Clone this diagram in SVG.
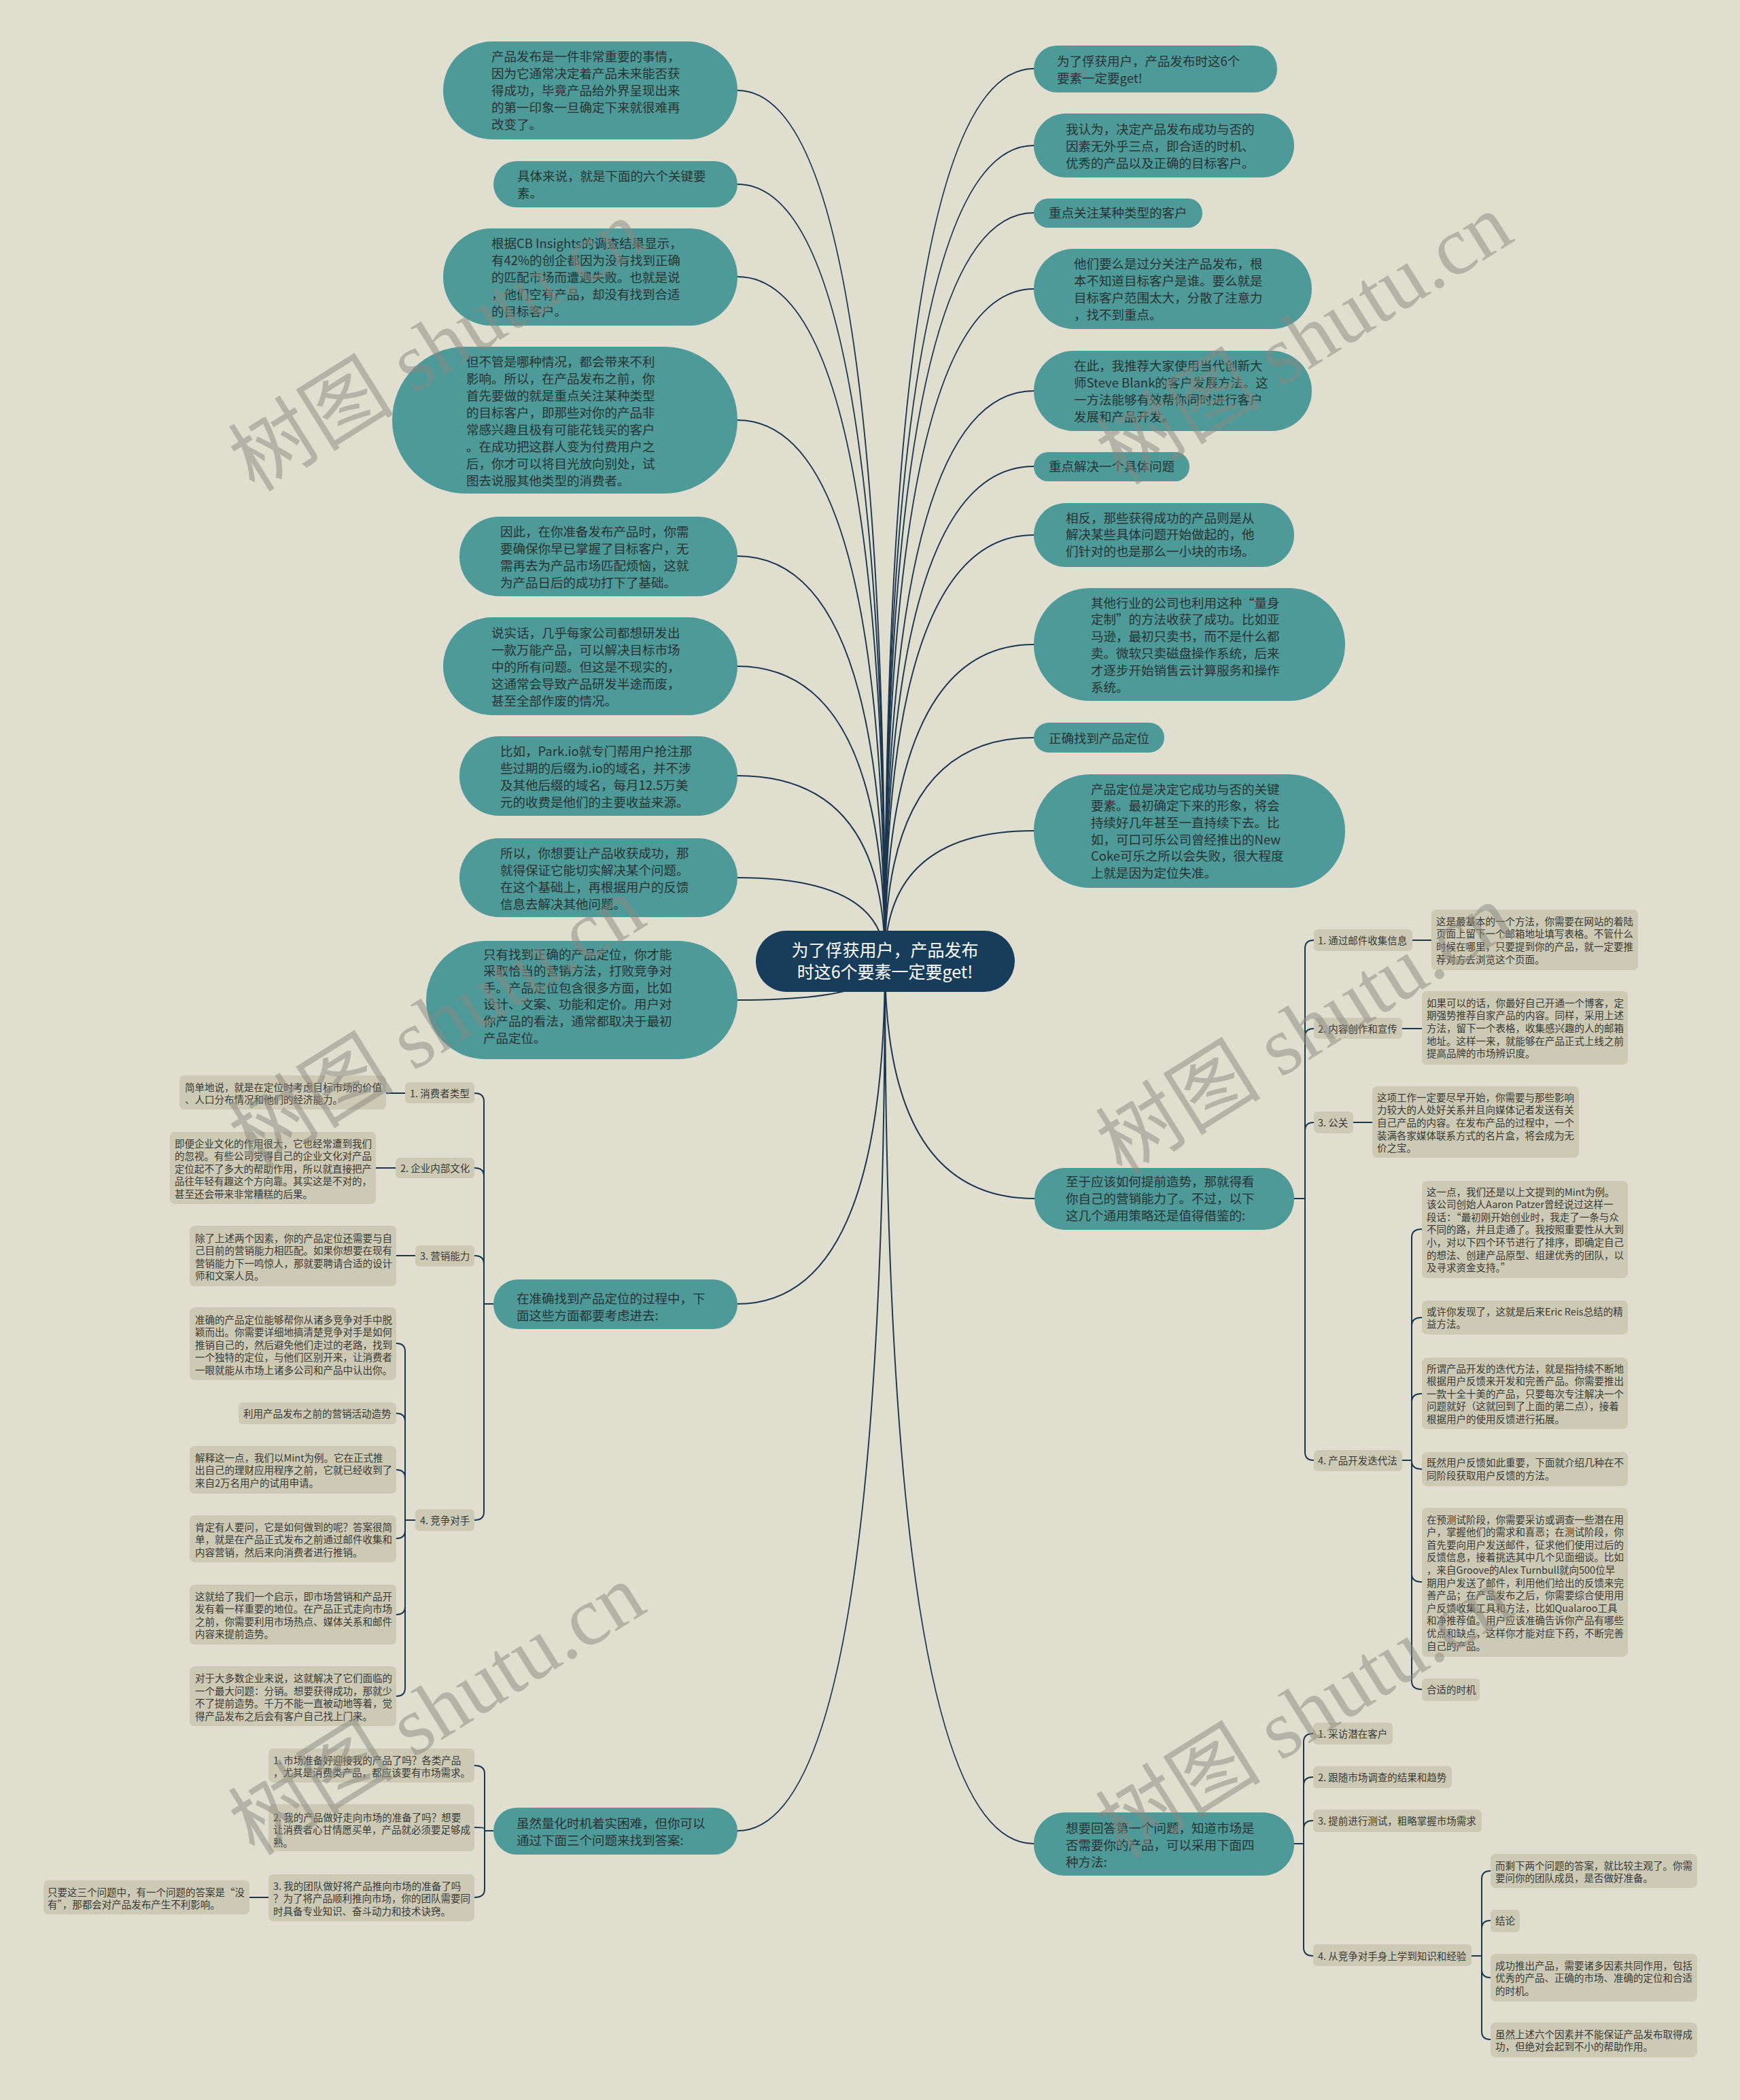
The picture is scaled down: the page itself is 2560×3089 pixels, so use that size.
<svg xmlns="http://www.w3.org/2000/svg" width="2560" height="3089" viewBox="0 0 2560 3089">
<style>
.tn{fill:#4d9a99}
.tt{font-family:"Noto Sans CJK SC","Noto Sans",sans-serif;font-size:18.5px;fill:#283333}
.sn{fill:#ccc9b4}
.st{font-family:"Noto Sans CJK SC","Noto Sans",sans-serif;font-size:14.5px;fill:#3a3a35}
.rt{font-family:"Noto Sans CJK SC","Noto Sans",sans-serif;font-size:25px;fill:#ffffff}
.c{fill:none;stroke:#1d3650;stroke-width:2}
.wm{font-family:"Liberation Serif","Noto Sans CJK SC",serif;font-size:122px;fill:#8a8a80;opacity:.5}
</style>
<rect x="0" y="0" width="2560" height="3089" fill="#dfdecf"/>
<g id="connectors">
<path class="c" d="M1302 1414 Q1302 133 1085 133"/>
<path class="c" d="M1302 1414 Q1302 271 1085 271"/>
<path class="c" d="M1302 1414 Q1302 407 1085 407"/>
<path class="c" d="M1302 1414 Q1302 618 1085 618"/>
<path class="c" d="M1302 1414 Q1302 818 1085 818"/>
<path class="c" d="M1302 1414 Q1302 980 1085 980"/>
<path class="c" d="M1302 1414 Q1302 1141 1085 1141"/>
<path class="c" d="M1302 1414 Q1302 1291 1085 1291"/>
<path class="c" d="M1302 1414 Q1302 1471 1085 1471"/>
<path class="c" d="M1302 1414 Q1302 1918 1085 1918"/>
<path class="c" d="M1302 1414 Q1302 2693 1085 2693"/>
<path class="c" d="M1302 1414 Q1302 101 1521 101"/>
<path class="c" d="M1302 1414 Q1302 214 1521 214"/>
<path class="c" d="M1302 1414 Q1302 313 1521 313"/>
<path class="c" d="M1302 1414 Q1302 425 1521 425"/>
<path class="c" d="M1302 1414 Q1302 575 1521 575"/>
<path class="c" d="M1302 1414 Q1302 686 1521 686"/>
<path class="c" d="M1302 1414 Q1302 787 1521 787"/>
<path class="c" d="M1302 1414 Q1302 948 1521 948"/>
<path class="c" d="M1302 1414 Q1302 1085 1521 1085"/>
<path class="c" d="M1302 1414 Q1302 1222 1521 1222"/>
<path class="c" d="M1302 1414 Q1302 1763 1522 1763"/>
<path class="c" d="M1302 1414 Q1302 2712 1521 2712"/>
<path class="c" d="M1904 1763 H1920 V1395 Q1920 1383 1933 1383"/>
<path class="c" d="M1904 1763 H1920 V1525 Q1920 1513 1933 1513"/>
<path class="c" d="M1904 1763 H1920 V1663 Q1920 1651 1933 1651"/>
<path class="c" d="M1904 1763 H1920 V2136 Q1920 2148 1933 2148"/>
<path class="c" d="M2078 1383 H2106"/>
<path class="c" d="M2063 1513 H2092"/>
<path class="c" d="M1991 1651 H2019"/>
<path class="c" d="M2063 2148 H2077 V1820 Q2077 1808 2092 1808"/>
<path class="c" d="M2063 2148 H2077 V1950 Q2077 1938 2092 1938"/>
<path class="c" d="M2063 2148 H2077 V2062 Q2077 2050 2092 2050"/>
<path class="c" d="M2063 2148 H2077 V2149 Q2077 2161 2092 2161"/>
<path class="c" d="M2063 2148 H2077 V2315 Q2077 2327 2092 2327"/>
<path class="c" d="M2063 2148 H2077 V2473 Q2077 2485 2092 2485"/>
<path class="c" d="M1904 2712 H1918 V2562 Q1918 2550 1932 2550"/>
<path class="c" d="M1904 2712 H1918 V2626 Q1918 2614 1932 2614"/>
<path class="c" d="M1904 2712 H1918 V2690 Q1918 2678 1932 2678"/>
<path class="c" d="M1904 2712 H1918 V2865 Q1918 2877 1932 2877"/>
<path class="c" d="M2165 2877 H2180 V2764 Q2180 2752 2193 2752"/>
<path class="c" d="M2165 2877 H2180 V2837 Q2180 2825 2193 2825"/>
<path class="c" d="M2165 2877 H2180 V2897 Q2180 2909 2193 2909"/>
<path class="c" d="M2165 2877 H2180 V2988 Q2180 3000 2193 3000"/>
<path class="c" d="M726 1918 H712 V1620 Q712 1608 698 1608"/>
<path class="c" d="M726 1918 H712 V1730 Q712 1718 698 1718"/>
<path class="c" d="M726 1918 H712 V1859 Q712 1847 698 1847"/>
<path class="c" d="M726 1918 H712 V2224 Q712 2236 698 2236"/>
<path class="c" d="M596 1608 H568"/>
<path class="c" d="M582 1718 H553"/>
<path class="c" d="M611 1847 H583"/>
<path class="c" d="M611 2236 H596 V1988 Q596 1976 583 1976"/>
<path class="c" d="M611 2236 H596 V2091 Q596 2079 583 2079"/>
<path class="c" d="M611 2236 H596 V2174 Q596 2162 583 2162"/>
<path class="c" d="M611 2236 H596 V2251 Q596 2263 583 2263"/>
<path class="c" d="M611 2236 H596 V2363 Q596 2375 583 2375"/>
<path class="c" d="M611 2236 H596 V2483 Q596 2495 583 2495"/>
<path class="c" d="M726 2693 H713 V2609 Q713 2597 698 2597"/>
<path class="c" d="M726 2693 H713 V2690 Q713 2688 698 2688"/>
<path class="c" d="M726 2693 H713 V2779 Q713 2791 698 2791"/>
<path class="c" d="M395 2791 H367"/>
</g>
<g id="root"><rect x="1112" y="1369" width="381" height="90" rx="45" fill="#173d5b"/><text class="rt" text-anchor="middle"><tspan x="1302" y="1407">为了俘获用户，产品发布</tspan><tspan x="1302" y="1439">时这6个要素一定要get!</tspan></text></g>
<g id="n1"><rect class="tn" x="652" y="61" width="433" height="144" rx="72"/><text class="tt"><tspan x="723" y="90">产品发布是一件非常重要的事情，</tspan><tspan x="723" y="115">因为它通常决定着产品未来能否获</tspan><tspan x="723" y="140">得成功，毕竟产品给外界呈现出来</tspan><tspan x="723" y="165">的第一印象一旦确定下来就很难再</tspan><tspan x="723" y="190">改变了。</tspan></text></g>
<g id="n2"><rect class="tn" x="726" y="237" width="359" height="68" rx="34"/><text class="tt"><tspan x="761" y="265.5">具体来说，就是下面的六个关键要</tspan><tspan x="761" y="290.5">素。</tspan></text></g>
<g id="n3"><rect class="tn" x="652" y="336" width="433" height="143" rx="71"/><text class="tt"><tspan x="723" y="364.5">根据CB Insights的调查结果显示，</tspan><tspan x="723" y="389.5">有42%的创企都因为没有找到正确</tspan><tspan x="723" y="414.5">的匹配市场而遭遇失败。也就是说</tspan><tspan x="723" y="439.5">，他们空有产品，却没有找到合适</tspan><tspan x="723" y="464.5">的目标客户。</tspan></text></g>
<g id="n4"><rect class="tn" x="577" y="510" width="508" height="216" rx="108"/><text class="tt"><tspan x="686" y="538.5">但不管是哪种情况，都会带来不利</tspan><tspan x="686" y="563.5">影响。所以，在产品发布之前，你</tspan><tspan x="686" y="588.5">首先要做的就是重点关注某种类型</tspan><tspan x="686" y="613.5">的目标客户，即那些对你的产品非</tspan><tspan x="686" y="638.5">常感兴趣且极有可能花钱买的客户</tspan><tspan x="686" y="663.5">。在成功把这群人变为付费用户之</tspan><tspan x="686" y="688.5">后，你才可以将目光放向别处，试</tspan><tspan x="686" y="713.5">图去说服其他类型的消费者。</tspan></text></g>
<g id="n5"><rect class="tn" x="676" y="760" width="409" height="117" rx="58"/><text class="tt"><tspan x="736" y="788.5">因此，在你准备发布产品时，你需</tspan><tspan x="736" y="813.5">要确保你早已掌握了目标客户，无</tspan><tspan x="736" y="838.5">需再去为产品市场匹配烦恼，这就</tspan><tspan x="736" y="863.5">为产品日后的成功打下了基础。</tspan></text></g>
<g id="n6"><rect class="tn" x="652" y="908" width="433" height="144" rx="72"/><text class="tt"><tspan x="723" y="937.5">说实话，几乎每家公司都想研发出</tspan><tspan x="723" y="962.5">一款万能产品，可以解决目标市场</tspan><tspan x="723" y="987.5">中的所有问题。但这是不现实的，</tspan><tspan x="723" y="1012.5">这通常会导致产品研发半途而废，</tspan><tspan x="723" y="1037.5">甚至全部作废的情况。</tspan></text></g>
<g id="n7"><rect class="tn" x="676" y="1083" width="409" height="117" rx="58"/><text class="tt"><tspan x="736" y="1111.5">比如，Park.io就专门帮用户抢注那</tspan><tspan x="736" y="1136.5">些过期的后缀为.io的域名，并不涉</tspan><tspan x="736" y="1161.5">及其他后缀的域名，每月12.5万美</tspan><tspan x="736" y="1186.5">元的收费是他们的主要收益来源。</tspan></text></g>
<g id="n8"><rect class="tn" x="676" y="1233" width="409" height="116" rx="58"/><text class="tt"><tspan x="736" y="1261.5">所以，你想要让产品收获成功，那</tspan><tspan x="736" y="1286.5">就得保证它能切实解决某个问题。</tspan><tspan x="736" y="1311.5">在这个基础上，再根据用户的反馈</tspan><tspan x="736" y="1336.5">信息去解决其他问题。</tspan></text></g>
<g id="n9"><rect class="tn" x="627" y="1384" width="458" height="174" rx="87"/><text class="tt"><tspan x="711" y="1410.5">只有找到正确的产品定位，你才能</tspan><tspan x="711" y="1435.1">采取恰当的营销方法，打败竞争对</tspan><tspan x="711" y="1459.7">手。产品定位包含很多方面，比如</tspan><tspan x="711" y="1484.3">设计、文案、功能和定价。用户对</tspan><tspan x="711" y="1508.9">你产品的看法，通常都取决于最初</tspan><tspan x="711" y="1533.5">产品定位。</tspan></text></g>
<g id="l10"><rect class="tn" x="726" y="1882" width="359" height="73" rx="36"/><text class="tt"><tspan x="760" y="1916.5">在准确找到产品定位的过程中，下</tspan><tspan x="760" y="1941.5">面这些方面都要考虑进去:</tspan></text></g>
<g id="l11"><rect class="tn" x="726" y="2659" width="359" height="69" rx="34"/><text class="tt"><tspan x="760" y="2688.5">虽然量化时机着实困难，但你可以</tspan><tspan x="760" y="2713.5">通过下面三个问题来找到答案:</tspan></text></g>
<g id="r1"><rect class="tn" x="1521" y="67" width="358" height="69" rx="34"/><text class="tt"><tspan x="1555" y="96.5">为了俘获用户，产品发布时这6个</tspan><tspan x="1555" y="121.5">要素一定要get!</tspan></text></g>
<g id="r2"><rect class="tn" x="1521" y="167" width="383" height="94" rx="47"/><text class="tt"><tspan x="1568" y="196.5">我认为，决定产品发布成功与否的</tspan><tspan x="1568" y="221.5">因素无外乎三点，即合适的时机、</tspan><tspan x="1568" y="246.5">优秀的产品以及正确的目标客户。</tspan></text></g>
<g id="r3"><rect class="tn" x="1521" y="292" width="248" height="43" rx="21"/><text class="tt"><tspan x="1543" y="319.5">重点关注某种类型的客户</tspan></text></g>
<g id="r4"><rect class="tn" x="1521" y="366" width="409" height="118" rx="59"/><text class="tt"><tspan x="1580" y="394.5">他们要么是过分关注产品发布，根</tspan><tspan x="1580" y="419.5">本不知道目标客户是谁。要么就是</tspan><tspan x="1580" y="444.5">目标客户范围太大，分散了注意力</tspan><tspan x="1580" y="469.5">，找不到重点。</tspan></text></g>
<g id="r5"><rect class="tn" x="1521" y="516" width="409" height="118" rx="59"/><text class="tt"><tspan x="1580" y="544.5">在此，我推荐大家使用当代创新大</tspan><tspan x="1580" y="569.5">师Steve Blank的客户发展方法。这</tspan><tspan x="1580" y="594.5">一方法能够有效帮你同时进行客户</tspan><tspan x="1580" y="619.5">发展和产品开发。</tspan></text></g>
<g id="r6"><rect class="tn" x="1521" y="665" width="229" height="43" rx="21"/><text class="tt"><tspan x="1543" y="692.5">重点解决一个具体问题</tspan></text></g>
<g id="r7"><rect class="tn" x="1521" y="740" width="383" height="94" rx="47"/><text class="tt"><tspan x="1568" y="768.5">相反，那些获得成功的产品则是从</tspan><tspan x="1568" y="793">解决某些具体问题开始做起的，他</tspan><tspan x="1568" y="817.5">们针对的也是那么一小块的市场。</tspan></text></g>
<g id="r8"><rect class="tn" x="1521" y="865" width="458" height="166" rx="83"/><text class="tt"><tspan x="1605" y="893.5">其他行业的公司也利用这种“量身</tspan><tspan x="1605" y="918.3">定制”的方法收获了成功。比如亚</tspan><tspan x="1605" y="943.1">马逊，最初只卖书，而不是什么都</tspan><tspan x="1605" y="967.9">卖。微软只卖磁盘操作系统，后来</tspan><tspan x="1605" y="992.7">才逐步开始销售云计算服务和操作</tspan><tspan x="1605" y="1017.5">系统。</tspan></text></g>
<g id="r9"><rect class="tn" x="1521" y="1063" width="192" height="44" rx="22"/><text class="tt"><tspan x="1543" y="1092.5">正确找到产品定位</tspan></text></g>
<g id="r10"><rect class="tn" x="1521" y="1139" width="458" height="167" rx="83"/><text class="tt"><tspan x="1605" y="1167.5">产品定位是决定它成功与否的关键</tspan><tspan x="1605" y="1192.2">要素。最初确定下来的形象，将会</tspan><tspan x="1605" y="1216.9">持续好几年甚至一直持续下去。比</tspan><tspan x="1605" y="1241.6">如，可口可乐公司曾经推出的New</tspan><tspan x="1605" y="1266.3">Coke可乐之所以会失败，很大程度</tspan><tspan x="1605" y="1291">上就是因为定位失准。</tspan></text></g>
<g id="r11"><rect class="tn" x="1522" y="1718" width="382" height="91" rx="45"/><text class="tt"><tspan x="1568" y="1744.5">至于应该如何提前造势，那就得看</tspan><tspan x="1568" y="1769.5">你自己的营销能力了。不过，以下</tspan><tspan x="1568" y="1794.5">这几个通用策略还是值得借鉴的:</tspan></text></g>
<g id="r12"><rect class="tn" x="1521" y="2666" width="383" height="93" rx="46"/><text class="tt"><tspan x="1568" y="2695.5">想要回答第一个问题，知道市场是</tspan><tspan x="1568" y="2720.5">否需要你的产品，可以采用下面四</tspan><tspan x="1568" y="2745.5">种方法:</tspan></text></g>
<g id="s1"><rect class="sn" x="1933" y="1367" width="145" height="32" rx="6"/><text class="st"><tspan x="1939" y="1388.5">1. 通过邮件收集信息</tspan></text></g>
<g id="s1c"><rect class="sn" x="2106" y="1338" width="304" height="89" rx="7"/><text class="st"><tspan x="2113" y="1360.5">这是最基本的一个方法，你需要在网站的着陆</tspan><tspan x="2113" y="1379.2">页面上留下一个邮箱地址填写表格。不管什么</tspan><tspan x="2113" y="1397.9">时候在哪里，只要提到你的产品，就一定要推</tspan><tspan x="2113" y="1416.6">荐对方去浏览这个页面。</tspan></text></g>
<g id="s2"><rect class="sn" x="1933" y="1497" width="130" height="31" rx="6"/><text class="st"><tspan x="1939" y="1518.5">2. 内容创作和宣传</tspan></text></g>
<g id="s2c"><rect class="sn" x="2092" y="1458" width="303" height="108" rx="7"/><text class="st"><tspan x="2099" y="1480.5">如果可以的话，你最好自己开通一个博客，定</tspan><tspan x="2099" y="1499.2">期强势推荐自家产品的内容。同样，采用上述</tspan><tspan x="2099" y="1517.9">方法，留下一个表格，收集感兴趣的人的邮箱</tspan><tspan x="2099" y="1536.6">地址。这样一来，就能够在产品正式上线之前</tspan><tspan x="2099" y="1555.3">提高品牌的市场辨识度。</tspan></text></g>
<g id="s3"><rect class="sn" x="1933" y="1635" width="58" height="32" rx="6"/><text class="st"><tspan x="1939" y="1656.5">3. 公关</tspan></text></g>
<g id="s3c"><rect class="sn" x="2019" y="1598" width="304" height="105" rx="7"/><text class="st"><tspan x="2026" y="1619.5">这项工作一定要尽早开始，你需要与那些影响</tspan><tspan x="2026" y="1638.2">力较大的人处好关系并且向媒体记者发送有关</tspan><tspan x="2026" y="1656.9">自己产品的内容。在发布产品的过程中，一个</tspan><tspan x="2026" y="1675.6">装满各家媒体联系方式的名片盒，将会成为无</tspan><tspan x="2026" y="1694.3">价之宝。</tspan></text></g>
<g id="s4"><rect class="sn" x="1933" y="2133" width="130" height="31" rx="6"/><text class="st"><tspan x="1939" y="2153.5">4. 产品开发迭代法</tspan></text></g>
<g id="s4a"><rect class="sn" x="2092" y="1737" width="303" height="143" rx="7"/><text class="st"><tspan x="2099" y="1758.5">这一点，我们还是以上文提到的Mint为例。</tspan><tspan x="2099" y="1777.1">该公司创始人Aaron Patzer曾经说过这样一</tspan><tspan x="2099" y="1795.7">段话：“最初刚开始创业时，我走了一条与众</tspan><tspan x="2099" y="1814.3">不同的路，并且走通了。我按照重要性从大到</tspan><tspan x="2099" y="1832.9">小，对以下四个环节进行了排序，即确定自己</tspan><tspan x="2099" y="1851.5">的想法、创建产品原型、组建优秀的团队，以</tspan><tspan x="2099" y="1870.1">及寻求资金支持。”</tspan></text></g>
<g id="s4b"><rect class="sn" x="2092" y="1913" width="303" height="50" rx="7"/><text class="st"><tspan x="2099" y="1934.5">或许你发现了，这就是后来Eric Reis总结的精</tspan><tspan x="2099" y="1953.1">益方法。</tspan></text></g>
<g id="s4c"><rect class="sn" x="2092" y="1997" width="303" height="105" rx="7"/><text class="st"><tspan x="2099" y="2018.5">所谓产品开发的迭代方法，就是指持续不断地</tspan><tspan x="2099" y="2037.1">根据用户反馈来开发和完善产品。你需要推出</tspan><tspan x="2099" y="2055.7">一款十全十美的产品，只要每次专注解决一个</tspan><tspan x="2099" y="2074.3">问题就好（这就回到了上面的第二点），接着</tspan><tspan x="2099" y="2092.9">根据用户的使用反馈进行拓展。</tspan></text></g>
<g id="s4d"><rect class="sn" x="2092" y="2136" width="303" height="50" rx="7"/><text class="st"><tspan x="2099" y="2157">既然用户反馈如此重要，下面就介绍几种在不</tspan><tspan x="2099" y="2175.6">同阶段获取用户反馈的方法。</tspan></text></g>
<g id="s4e"><rect class="sn" x="2092" y="2218" width="303" height="219" rx="7"/><text class="st"><tspan x="2099" y="2240.5">在预测试阶段，你需要采访或调查一些潜在用</tspan><tspan x="2099" y="2259.1">户，掌握他们的需求和喜恶；在测试阶段，你</tspan><tspan x="2099" y="2277.7">首先要向用户发送邮件，征求他们使用过后的</tspan><tspan x="2099" y="2296.3">反馈信息，接着挑选其中几个见面细谈。比如</tspan><tspan x="2099" y="2314.9">，来自Groove的Alex Turnbull就向500位早</tspan><tspan x="2099" y="2333.5">期用户发送了邮件，利用他们给出的反馈来完</tspan><tspan x="2099" y="2352.1">善产品；在产品发布之后，你需要综合使用用</tspan><tspan x="2099" y="2370.7">户反馈收集工具和方法，比如Qualaroo工具</tspan><tspan x="2099" y="2389.3">和净推荐值。用户应该准确告诉你产品有哪些</tspan><tspan x="2099" y="2407.9">优点和缺点，这样你才能对症下药，不断完善</tspan><tspan x="2099" y="2426.5">自己的产品。</tspan></text></g>
<g id="s4f"><rect class="sn" x="2092" y="2469" width="85" height="33" rx="6"/><text class="st"><tspan x="2099" y="2490.5">合适的时机</tspan></text></g>
<g id="t1"><rect class="sn" x="1932" y="2534" width="117" height="32" rx="6"/><text class="st"><tspan x="1939" y="2555.5">1. 采访潜在客户</tspan></text></g>
<g id="t2"><rect class="sn" x="1932" y="2598" width="204" height="32" rx="6"/><text class="st"><tspan x="1939" y="2619.5">2. 跟随市场调查的结果和趋势</tspan></text></g>
<g id="t3"><rect class="sn" x="1932" y="2662" width="248" height="33" rx="6"/><text class="st"><tspan x="1939" y="2683.5">3. 提前进行测试，粗略掌握市场需求</tspan></text></g>
<g id="t4"><rect class="sn" x="1932" y="2860" width="233" height="32" rx="6"/><text class="st"><tspan x="1939" y="2882.5">4. 从竞争对手身上学到知识和经验</tspan></text></g>
<g id="t4a"><rect class="sn" x="2193" y="2727" width="304" height="50" rx="7"/><text class="st"><tspan x="2200" y="2749.5">而剩下两个问题的答案，就比较主观了。你需</tspan><tspan x="2200" y="2768">要问你的团队成员，是否做好准备。</tspan></text></g>
<g id="t4b"><rect class="sn" x="2193" y="2809" width="43" height="33" rx="6"/><text class="st"><tspan x="2200" y="2830.5">结论</tspan></text></g>
<g id="t4c"><rect class="sn" x="2193" y="2874" width="304" height="70" rx="7"/><text class="st"><tspan x="2200" y="2896.5">成功推出产品，需要诸多因素共同作用，包括</tspan><tspan x="2200" y="2915.1">优秀的产品、正确的市场、准确的定位和合适</tspan><tspan x="2200" y="2933.7">的时机。</tspan></text></g>
<g id="t4d"><rect class="sn" x="2193" y="2975" width="304" height="51" rx="7"/><text class="st"><tspan x="2200" y="2997.5">虽然上述六个因素并不能保证产品发布取得成</tspan><tspan x="2200" y="3016.1">功，但绝对会起到不小的帮助作用。</tspan></text></g>
<g id="u1"><rect class="sn" x="596" y="1592" width="102" height="31" rx="6"/><text class="st"><tspan x="603" y="1613.5">1. 消费者类型</tspan></text></g>
<g id="u1c"><rect class="sn" x="264" y="1582" width="304" height="50" rx="7"/><text class="st"><tspan x="272" y="1604.5">简单地说，就是在定位时考虑目标市场的价值</tspan><tspan x="272" y="1623.1">、人口分布情况和他们的经济能力。</tspan></text></g>
<g id="u2"><rect class="sn" x="582" y="1703" width="116" height="30" rx="6"/><text class="st"><tspan x="589" y="1723.5">2. 企业内部文化</tspan></text></g>
<g id="u2c"><rect class="sn" x="250" y="1665" width="303" height="106" rx="7"/><text class="st"><tspan x="257" y="1687.5">即便企业文化的作用很大，它也经常遭到我们</tspan><tspan x="257" y="1706.1">的忽视。有些公司觉得自己的企业文化对产品</tspan><tspan x="257" y="1724.7">定位起不了多大的帮助作用，所以就直接把产</tspan><tspan x="257" y="1743.3">品往年轻有趣这个方向靠。其实这是不对的，</tspan><tspan x="257" y="1761.9">甚至还会带来非常糟糕的后果。</tspan></text></g>
<g id="u3"><rect class="sn" x="611" y="1832" width="87" height="31" rx="6"/><text class="st"><tspan x="618" y="1852.5">3. 营销能力</tspan></text></g>
<g id="u3c"><rect class="sn" x="279" y="1803" width="304" height="89" rx="7"/><text class="st"><tspan x="287" y="1826.5">除了上述两个因素，你的产品定位还需要与自</tspan><tspan x="287" y="1845.1">己目前的营销能力相匹配。如果你想要在现有</tspan><tspan x="287" y="1863.7">营销能力下一鸣惊人，那就要聘请合适的设计</tspan><tspan x="287" y="1882.3">师和文案人员。</tspan></text></g>
<g id="u4"><rect class="sn" x="611" y="2220" width="87" height="32" rx="6"/><text class="st"><tspan x="618" y="2241.5">4. 竞争对手</tspan></text></g>
<g id="u4a"><rect class="sn" x="279" y="1923" width="304" height="107" rx="7"/><text class="st"><tspan x="287" y="1946.5">准确的产品定位能够帮你从诸多竞争对手中脱</tspan><tspan x="287" y="1965.1">颖而出。你需要详细地搞清楚竞争对手是如何</tspan><tspan x="287" y="1983.7">推销自己的，然后避免他们走过的老路，找到</tspan><tspan x="287" y="2002.3">一个独特的定位，与他们区别开来，让消费者</tspan><tspan x="287" y="2020.9">一眼就能从市场上诸多公司和产品中认出你。</tspan></text></g>
<g id="u4b"><rect class="sn" x="351" y="2063" width="232" height="32" rx="6"/><text class="st"><tspan x="358" y="2084.5">利用产品发布之前的营销活动造势</tspan></text></g>
<g id="u4c"><rect class="sn" x="279" y="2127" width="304" height="70" rx="7"/><text class="st"><tspan x="287" y="2149.5">解释这一点，我们以Mint为例。它在正式推</tspan><tspan x="287" y="2168.1">出自己的理财应用程序之前，它就已经收到了</tspan><tspan x="287" y="2186.7">来自2万名用户的试用申请。</tspan></text></g>
<g id="u4d"><rect class="sn" x="279" y="2229" width="304" height="69" rx="7"/><text class="st"><tspan x="287" y="2251.5">肯定有人要问，它是如何做到的呢？答案很简</tspan><tspan x="287" y="2270.1">单，就是在产品正式发布之前通过邮件收集和</tspan><tspan x="287" y="2288.7">内容营销，然后来向消费者进行推销。</tspan></text></g>
<g id="u4e"><rect class="sn" x="279" y="2331" width="304" height="88" rx="7"/><text class="st"><tspan x="287" y="2353.5">这就给了我们一个启示，即市场营销和产品开</tspan><tspan x="287" y="2372.1">发有着一样重要的地位。在产品正式走向市场</tspan><tspan x="287" y="2390.7">之前，你需要利用市场热点、媒体关系和邮件</tspan><tspan x="287" y="2409.3">内容来提前造势。</tspan></text></g>
<g id="u4f"><rect class="sn" x="279" y="2451" width="304" height="88" rx="7"/><text class="st"><tspan x="287" y="2474">对于大多数企业来说，这就解决了它们面临的</tspan><tspan x="287" y="2492.5">一个最大问题：分销。想要获得成功，那就少</tspan><tspan x="287" y="2511">不了提前造势。千万不能一直被动地等着，觉</tspan><tspan x="287" y="2529.5">得产品发布之后会有客户自己找上门来。</tspan></text></g>
<g id="v1"><rect class="sn" x="395" y="2572" width="303" height="50" rx="7"/><text class="st"><tspan x="402" y="2594.5">1. 市场准备好迎接我的产品了吗？各类产品</tspan><tspan x="402" y="2613.1">，尤其是消费类产品，都应该要有市场需求。</tspan></text></g>
<g id="v2"><rect class="sn" x="395" y="2654" width="303" height="69" rx="7"/><text class="st"><tspan x="402" y="2678.5">2. 我的产品做好走向市场的准备了吗？想要</tspan><tspan x="402" y="2697.1">让消费者心甘情愿买单，产品就必须要足够成</tspan><tspan x="402" y="2715.7">熟。</tspan></text></g>
<g id="v3"><rect class="sn" x="395" y="2757" width="303" height="69" rx="7"/><text class="st"><tspan x="402" y="2779.5">3. 我的团队做好将产品推向市场的准备了吗</tspan><tspan x="402" y="2798.1">？为了将产品顺利推向市场，你的团队需要同</tspan><tspan x="402" y="2816.7">时具备专业知识、奋斗动力和技术诀窍。</tspan></text></g>
<g id="v3c"><rect class="sn" x="64" y="2766" width="303" height="50" rx="7"/><text class="st"><tspan x="70" y="2788.5">只要这三个问题中，有一个问题的答案是“没</tspan><tspan x="70" y="2807.1">有”，那都会对产品发布产生不利影响。</tspan></text></g>
<g id="watermarks">
<text class="wm" text-anchor="middle" transform="translate(665 544) rotate(-32)">树图 shutu.cn</text>
<text class="wm" text-anchor="middle" transform="translate(1941 534) rotate(-32)">树图 shutu.cn</text>
<text class="wm" text-anchor="middle" transform="translate(665 1540) rotate(-32)">树图 shutu.cn</text>
<text class="wm" text-anchor="middle" transform="translate(1941 1550) rotate(-32)">树图 shutu.cn</text>
<text class="wm" text-anchor="middle" transform="translate(665 2550) rotate(-32)">树图 shutu.cn</text>
<text class="wm" text-anchor="middle" transform="translate(1941 2555) rotate(-32)">树图 shutu.cn</text>
</g>
</svg>
